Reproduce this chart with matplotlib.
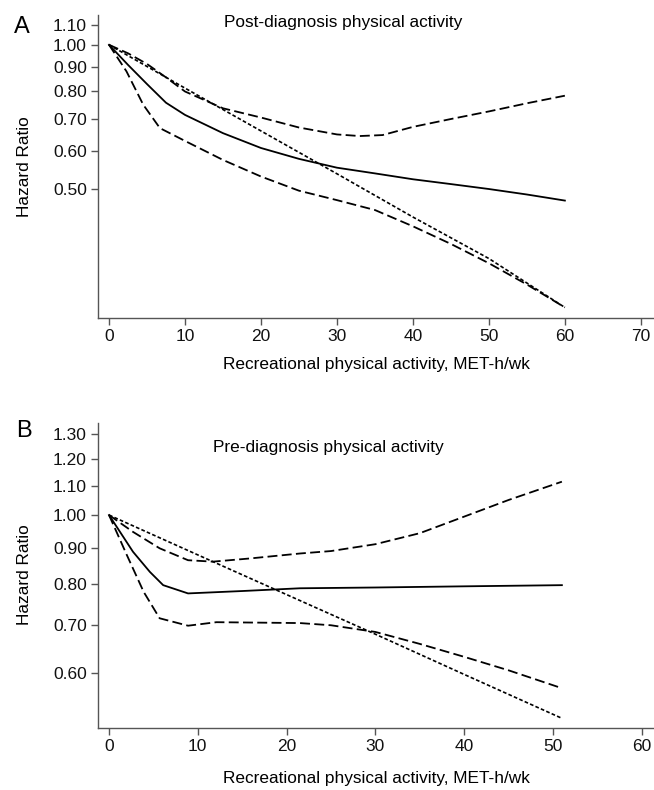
import matplotlib
matplotlib.use("Agg")
import matplotlib.pyplot as plt
from matplotlib.ticker import FixedLocator, FixedFormatter, NullLocator

plt.rcParams['font.family'] = ['Liberation Sans', 'DejaVu Sans']

# ---------------- Panel A: post-diagnosis ----------------
a_x_hr = [0, 2.5, 5, 7.5, 10, 15, 20, 25, 30, 35, 40, 45, 50, 55, 60]
a_hr = [1.0, 0.908, 0.828, 0.757, 0.714, 0.654, 0.609, 0.578, 0.554, 0.539, 0.524, 0.512, 0.500, 0.487, 0.473]
a_x_up = [0, 2.5, 5, 7.5, 10, 15, 20, 25, 30, 33, 36, 40, 45, 50, 55, 60]
a_up = [1.0, 0.96, 0.912, 0.855, 0.799, 0.737, 0.705, 0.672, 0.650, 0.645, 0.648, 0.674, 0.700, 0.726, 0.755, 0.783]
a_x_lo = [0, 2.3, 4.5, 6.7, 10, 15, 20, 25, 30, 35, 40, 45, 50, 55, 60]
a_lo = [1.0, 0.88, 0.75, 0.67, 0.63, 0.575, 0.531, 0.496, 0.474, 0.452, 0.418, 0.384, 0.350, 0.316, 0.283]
a_x_tr = [0, 10, 20, 30, 40, 50, 60]
a_tr = [1.0, 0.812, 0.661, 0.538, 0.437, 0.358, 0.283]
a_yticks = [0.50, 0.60, 0.70, 0.80, 0.90, 1.00, 1.10]
a_xticks = [0, 10, 20, 30, 40, 50, 60, 70]

# ---------------- Panel B: pre-diagnosis ----------------
b_x_hr = [0, 2.7, 4.6, 6.1, 8.9, 15, 21.5, 30, 40, 51]
b_hr = [1.0, 0.888, 0.832, 0.797, 0.776, 0.782, 0.789, 0.791, 0.794, 0.797]
b_x_up = [0, 2.7, 5.7, 8.9, 11.7, 15.9, 21.5, 25, 30, 35, 40, 45, 51]
b_up = [1.0, 0.947, 0.898, 0.864, 0.860, 0.869, 0.883, 0.890, 0.910, 0.943, 0.995, 1.050, 1.114]
b_x_lo = [0, 2.0, 3.9, 5.7, 8.9, 12.1, 21.5, 25, 30, 35, 40, 45, 51]
b_lo = [1.0, 0.879, 0.78, 0.716, 0.699, 0.707, 0.705, 0.700, 0.685, 0.659, 0.632, 0.605, 0.571]
b_x_tr = [0, 10, 20, 30, 40, 51]
b_tr = [1.0, 0.879, 0.773, 0.68, 0.597, 0.518]
b_yticks = [0.60, 0.70, 0.80, 0.90, 1.00, 1.10, 1.20, 1.30]
b_xticks = [0, 10, 20, 30, 40, 50, 60]

title_a = "Post-diagnosis physical activity"
title_b = "Pre-diagnosis physical activity"
xlabel = "Recreational physical activity, MET-h/wk"
ylabel = "Hazard Ratio"

W, H = 654, 790
fig = plt.figure(figsize=(W / 100, H / 100), dpi=100)

def px_axes(l, t, r, b):
    return fig.add_axes([l / W, 1 - b / H, (r - l) / W, (b - t) / H])

axA = px_axes(98, 15, 653, 318)
axB = px_axes(98, 423, 653, 728)

long_dash = (0, (5.5, 2.4))
short_dash = (0, (2.2, 1.35))
spine_c = '#555555'
FS = 12.4
LW = 1.3

def style(ax, xticks, yticks, xlim, ylim):
    ax.set_yscale('log')
    ax.set_xlim(*xlim)
    ax.set_ylim(*ylim)
    ax.yaxis.set_major_locator(FixedLocator(yticks))
    ax.yaxis.set_major_formatter(FixedFormatter([f"{v:.2f}" for v in yticks]))
    ax.yaxis.set_minor_locator(NullLocator())
    ax.set_xticks(xticks)
    ax.set_xticklabels([str(v) for v in xticks])
    for s in ['top', 'right']:
        ax.spines[s].set_visible(False)
    for s in ['left', 'bottom']:
        ax.spines[s].set_color(spine_c)
        ax.spines[s].set_linewidth(1.0)
    ax.tick_params(axis='both', direction='out', length=5, width=1.0,
                   color=spine_c, labelsize=12.5, labelcolor='#111111', pad=3)
    ax.set_facecolor('white')

# Panel A
axA.plot(a_x_hr, a_hr, color='black', lw=LW)
axA.plot(a_x_up, a_up, color='black', lw=LW, linestyle=long_dash)
axA.plot(a_x_lo, a_lo, color='black', lw=LW, linestyle=long_dash)
axA.plot(a_x_tr, a_tr, color='black', lw=1.2, linestyle=short_dash)
style(axA, a_xticks, a_yticks, (-1.45, 71.6), (0.269, 1.154))

# Panel B
axB.plot(b_x_hr, b_hr, color='black', lw=LW)
axB.plot(b_x_up, b_up, color='black', lw=LW, linestyle=long_dash)
axB.plot(b_x_lo, b_lo, color='black', lw=LW, linestyle=long_dash)
axB.plot(b_x_tr, b_tr, color='black', lw=1.2, linestyle=short_dash)
style(axB, b_xticks, b_yticks, (-1.24, 61.26), (0.502, 1.347))

# Texts
fig.text(224 / W, 1 - 27.5 / H, title_a, ha='left', va='baseline', fontsize=FS)
fig.text(213 / W, 1 - 451.7 / H, title_b, ha='left', va='baseline', fontsize=FS)
fig.text(376 / W, 1 - 368.7 / H, xlabel, ha='center', va='baseline', fontsize=FS)
fig.text(376 / W, 1 - 783.5 / H, xlabel, ha='center', va='baseline', fontsize=FS)
fig.text(25 / W, 1 - 167 / H, ylabel, ha='center', va='center', rotation=90, fontsize=FS)
fig.text(25 / W, 1 - 575 / H, ylabel, ha='center', va='center', rotation=90, fontsize=FS)
fig.text(14 / W, 1 - 33 / H, "A", ha='left', va='baseline', fontsize=17)
fig.text(16 / W, 1 - 437 / H, "B", ha='left', va='baseline', fontsize=17)

fig.savefig("out.png", dpi=100, facecolor='white')
